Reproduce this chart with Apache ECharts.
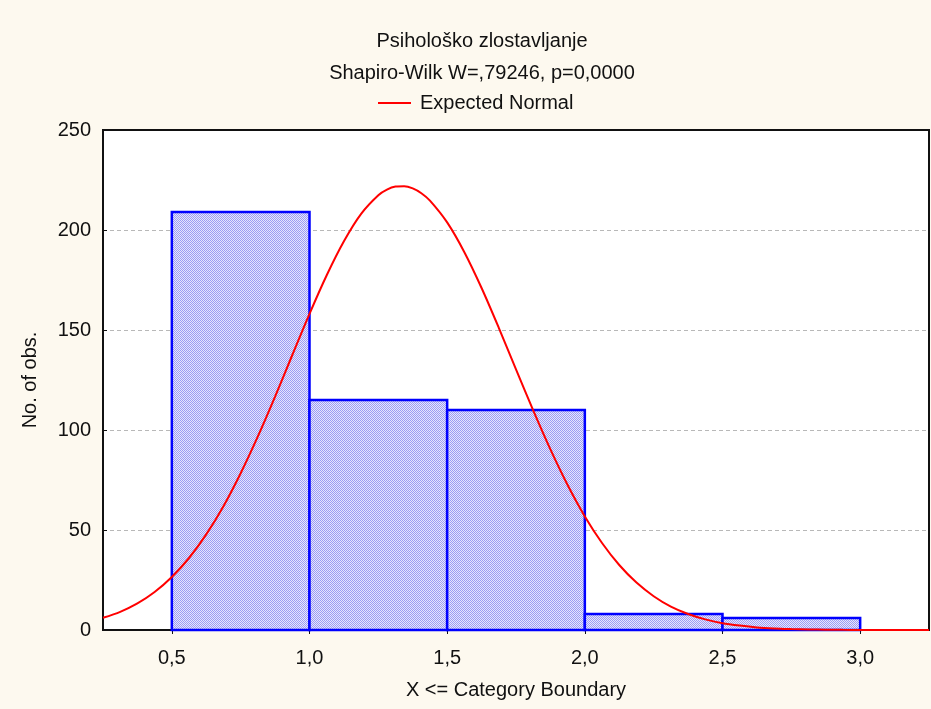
<!DOCTYPE html>
<html>
<head>
<meta charset="utf-8">
<script src="https://cdn.jsdelivr.net/npm/echarts@6/dist/echarts.min.js"></script>
<style>
html,body{margin:0;padding:0;background:#fdf9ef;}
#chart{width:931px;height:709px;}
</style>
</head>
<body>
<div id="chart"></div>
<script>
// Histogram bins (lower, upper boundary) and counts
const binStarts = [0.5, 1.0, 1.5, 2.0, 2.5];
const binEnds   = [1.0, 1.5, 2.0, 2.5, 3.0];
const binCounts = [209, 115, 110, 8, 6];

// Expected Normal curve
const curveX = [0.25, 0.3125, 0.375, 0.4375, 0.5, 0.5625, 0.625, 0.6875, 0.75, 0.8125, 0.875, 0.9375,
  1.0, 1.0625, 1.125, 1.1875, 1.25, 1.28125, 1.3125, 1.34375, 1.375, 1.40625, 1.4375, 1.5, 1.5625, 1.625, 1.6875, 1.75, 1.8125,
  1.875, 1.9375, 2.0, 2.0625, 2.125, 2.1875, 2.25, 2.3125, 2.375, 2.4375, 2.5, 2.5625, 2.625, 2.6875,
  2.75, 2.8125, 2.875, 2.9375, 3.0, 3.0625, 3.125, 3.1875, 3.25];
const curveY = [6.1, 9.1, 13.3, 19.0, 26.5, 36.0, 47.8, 61.9, 78.4, 96.8, 116.7, 137.5,
  158.1, 177.4, 194.4, 208.1, 217.4, 220.2, 221.7, 221.9, 220.8, 218.4, 214.7, 203.8, 188.9, 171.0, 151.1, 130.3, 109.8,
  90.3, 72.5, 56.8, 43.5, 32.5, 23.7, 16.9, 11.7, 8.0, 5.3, 3.4, 2.2, 1.3, 0.8,
  0.5, 0.27, 0.15, 0.08, 0.04, 0.02, 0.01, 0, 0];

const xTicks = [0.5, 1.0, 1.5, 2.0, 2.5, 3.0];

const titleText = 'Psihološko zlostavljanje';
const subText = 'Shapiro-Wilk W=,79246, p=0,0000';
const seriesName = 'Expected Normal';
const xName = 'X <= Category Boundary';
const yName = 'No. of obs.';

// dotted fill pattern
const pc = document.createElement('canvas');
pc.width = 2; pc.height = 2;
const pctx = pc.getContext('2d');
pctx.fillStyle = '#e6e6fd'; pctx.fillRect(0,0,2,2);
pctx.fillStyle = '#9c9cf3'; pctx.fillRect(0,0,1,1); pctx.fillRect(1,1,1,1);

const font = 'Liberation Sans, Arial, sans-serif';
const FS = 20;
const chart = echarts.init(document.getElementById('chart'));
const fmt = v => v.toFixed(1).replace('.', ',');

chart.setOption({
  backgroundColor: '#fdf9ef',
  animation: false,
  title: [
    {text: titleText, left: 477, top: 26, textAlign: 'center',
     textStyle: {fontFamily: font, fontSize: FS, fontWeight: 'normal', color: '#111'}},
    {text: subText, left: 477, top: 58, textAlign: 'center',
     textStyle: {fontFamily: font, fontSize: FS, fontWeight: 'normal', color: '#111'}}
  ],
  legend: {
    data: [{name: seriesName, icon: 'rect'}],
    left: 373, top: 88, itemWidth: 33, itemHeight: 2, itemGap: 10, padding: 5,
    textStyle: {fontFamily: font, fontSize: FS, color: '#111', padding: [0,0,0,4]}
  },
  grid: {left: 103, right: 2, top: 130, bottom: 79, show: true, backgroundColor: '#fff',
         borderColor: '#111', borderWidth: 2},
  xAxis: [
    {type: 'value', min: 0.25, max: 3.25, position: 'bottom',
     name: xName, nameLocation: 'middle', nameGap: 50,
     nameTextStyle: {fontFamily: font, fontSize: FS, color: '#111'},
     axisLine: {show: true, onZero: false, lineStyle: {color: '#111', width: 2}},
     axisTick: {show: true, inside: false, length: 4, customValues: xTicks, lineStyle: {color: '#111'}},
     axisLabel: {customValues: xTicks, formatter: fmt, margin: 18, fontFamily: font, fontSize: FS, color: '#111'},
     splitLine: {show: false}},
    {type: 'value', min: 0.25, max: 3.25, position: 'top',
     axisLine: {show: true, lineStyle: {color: '#111', width: 2}},
     axisTick: {show: true, inside: true, length: 4, customValues: xTicks, lineStyle: {color: '#111'}},
     axisLabel: {show: false}, splitLine: {show: false}}
  ],
  yAxis: {type: 'value', min: 0, max: 250, interval: 50,
    name: yName, nameLocation: 'middle', nameGap: 63,
    nameTextStyle: {fontFamily: font, fontSize: FS, color: '#111'},
    axisLine: {show: true, lineStyle: {color: '#111', width: 2}},
    axisTick: {show: true, inside: true, length: 4, lineStyle: {color: '#111'}},
    axisLabel: {margin: 12, fontFamily: font, fontSize: FS, color: '#111'},
    splitLine: {show: true, showMinLine: false, showMaxLine: false,
                lineStyle: {color: '#b8b8b8', type: [4, 3], width: 1}}
  },
  series: [
    {type: 'custom', name: 'hist', xAxisIndex: 0,
     data: binCounts.map((c, i) => [binStarts[i], binEnds[i], c]),
     encode: {x: [0, 1], y: 2},
     renderItem: function (params, api) {
       const p0 = api.coord([api.value(0), api.value(2)]);
       const p1 = api.coord([api.value(1), 0]);
       return {type: 'rect',
         shape: {x: p0[0], y: p0[1], width: p1[0] - p0[0], height: p1[1] - p0[1]},
         style: {fill: {image: pc, repeat: 'repeat'}, stroke: '#0000ff', lineWidth: 2.5}};
     },
     z: 2},
    {type: 'line', name: seriesName, xAxisIndex: 0,
     data: curveX.map((x, i) => [x, curveY[i]]),
     smooth: 0.3, showSymbol: false, symbol: 'none',
     lineStyle: {color: '#ff0000', width: 2}, itemStyle: {color: '#ff0000'}, z: 3}
  ]
});
</script>
</body>
</html>
